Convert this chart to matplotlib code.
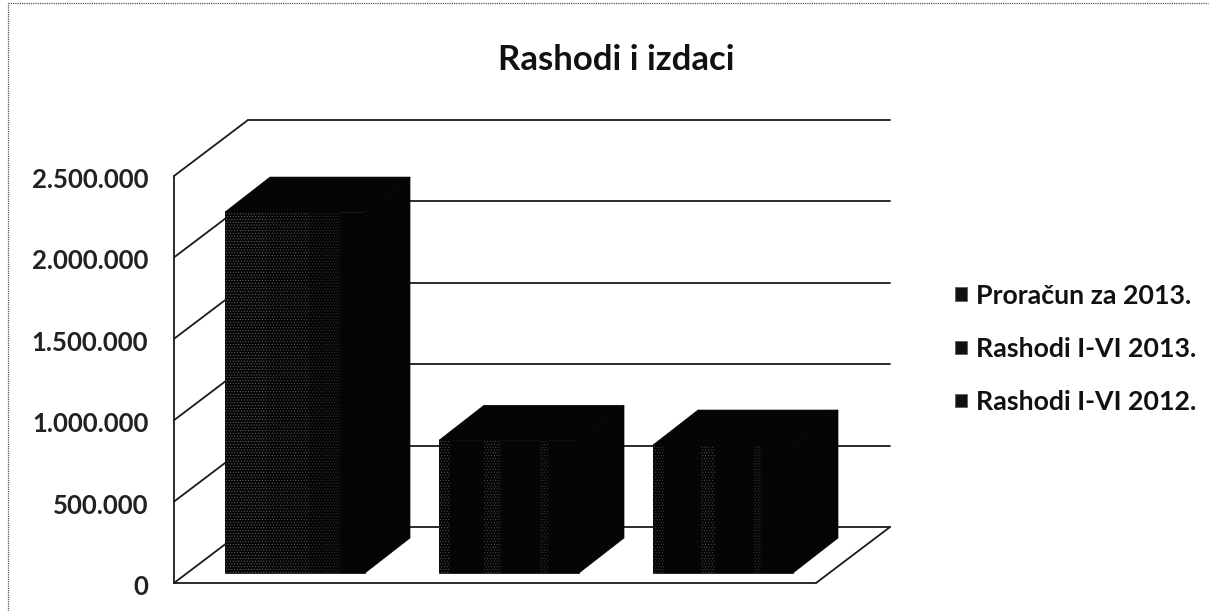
import numpy as np
import matplotlib
matplotlib.use("Agg")
import matplotlib.pyplot as plt
from matplotlib.lines import Line2D
from matplotlib.patches import Polygon, Patch
from matplotlib.transforms import ScaledTranslation

plt.rcParams['font.family'] = ['Lato', 'DejaVu Sans']
plt.rcParams['hatch.linewidth'] = 0.4

W, H = 1210, 611

series_names = ["Proračun za 2013.", "Rashodi I-VI 2013.", "Rashodi I-VI 2012."]
series_values = [2217000, 815000, 786000]
y_ticks = [0, 500000, 1000000, 1500000, 2000000, 2500000]
y_labels = ["0", "500.000", "1.000.000", "1.500.000", "2.000.000", "2.500.000"]
title = "Rashodi i izdaci"

# front wall of the box in pixels
left, right, top, bottom = 174, 816, 176, 583
fig = plt.figure(figsize=(W / 100, H / 100), dpi=100)
ax = fig.add_axes([left / W, 1 - bottom / H, (right - left) / W, (bottom - top) / H])
ax.set_xlim(-0.5, 2.5)
ax.set_ylim(0, 2500000)
ax.patch.set_visible(False)
for s in ax.spines.values():
    s.set_visible(False)

px_x = 3 / (right - left)
px_y = 2500000 / (bottom - top)
depth_x = 74 * px_x
depth_y = 56 * px_y
line_col = "#1a1a1a"


def wall_line(xs, ys):
    ax.plot(xs, ys, color=line_col, lw=1.3, zorder=1, clip_on=False, solid_capstyle="round")


# back wall and side wall
for t in y_ticks:
    wall_line([-0.5, -0.5 + depth_x], [t, t + depth_y])
    wall_line([-0.5 + depth_x, 2.5 + depth_x], [t + depth_y, t + depth_y])
wall_line([-0.5, -0.5], [0, 2500000])
wall_line([-0.5, 2.5], [0, 0])
wall_line([2.5, 2.5 + depth_x], [0, depth_y])

# bars: front face + top + side
bar_w = 140 * px_x
shift_x = 14 * px_x
shift_y = 10 * px_y
bar_dx = 45 * px_x
bar_dy = 35 * px_y
xpos = np.arange(len(series_values)) + shift_x
# speckled bands of the front face: start, width, dot colour
bands = [
    [(0.0, 0.30, "#6a6a6a"), (0.30, 0.30, "#555555"), (0.60, 0.22, "#333333")],
    [(0.0, 0.08, "#555555"), (0.32, 0.12, "#4a4a4a"), (0.72, 0.06, "#3a3a3a")],
    [(0.0, 0.08, "#444444"), (0.34, 0.10, "#4a4a4a"), (0.72, 0.05, "#3a3a3a")],
]
face = "#050505"

handles = []
for i, v in enumerate(series_values):
    x0 = xpos[i] - bar_w / 2
    x1 = xpos[i] + bar_w / 2
    ax.bar(xpos[i], v, bar_w, bottom=shift_y, color=face, ec=face, lw=0.5, zorder=3)
    yt = v + shift_y
    ax.add_patch(Polygon([(x0, yt), (x0 + bar_dx, yt + bar_dy), (x1 + bar_dx, yt + bar_dy), (x1, yt)],
                         closed=True, fc=face, ec=face, lw=0.5, zorder=3, clip_on=False))
    ax.add_patch(Polygon([(x1, shift_y), (x1 + bar_dx, shift_y + bar_dy), (x1 + bar_dx, yt + bar_dy), (x1, yt)],
                         closed=True, fc=face, ec=face, lw=0.5, zorder=3, clip_on=False))
    for s0, sw, dot in bands[i]:
        ax.bar(x0 + (s0 + sw / 2) * bar_w, v, sw * bar_w, bottom=shift_y, fc=face,
               ec=dot, lw=0, hatch="......", zorder=4)
    handles.append(Patch(fc="#111111", ec="#555555", lw=0.5, label=series_names[i]))

ax.set_xticks([])
ax.set_yticks(y_ticks)
ax.set_yticklabels(y_labels, fontsize=18.5, fontweight="bold", color="#222222")
ax.tick_params(axis="y", length=0, pad=18.5)
# labels sit a little below their lines in the original
for lab in ax.get_yticklabels():
    lab.set_transform(lab.get_transform() + ScaledTranslation(0, -2 / 100, fig.dpi_scale_trans))

fig.text(616 / W, 1 - 60 / H, title, fontsize=25, fontweight="bold", color="#111111",
         ha="center", va="center")

leg = fig.legend(handles=handles, loc="center left", bbox_to_anchor=(955 / W, 1 - 349 / H),
                 frameon=False, handlelength=0.45, handleheight=0.4, handletextpad=0.33,
                 labelspacing=1.09, borderpad=0, borderaxespad=0,
                 prop={"size": 19.3, "weight": "bold"})
for t in leg.get_texts():
    t.set_color("#111111")

# dotted scan border of the chart
for xs, ys in [((8, 8), (611, 3)), ((8, 1208), (3, 3))]:
    fig.add_artist(Line2D([x / W for x in xs], [1 - y / H for y in ys], color="#555555",
                          lw=0.9, ls=(0, (1, 0.8))))

fig.savefig("out.png", dpi=100)
